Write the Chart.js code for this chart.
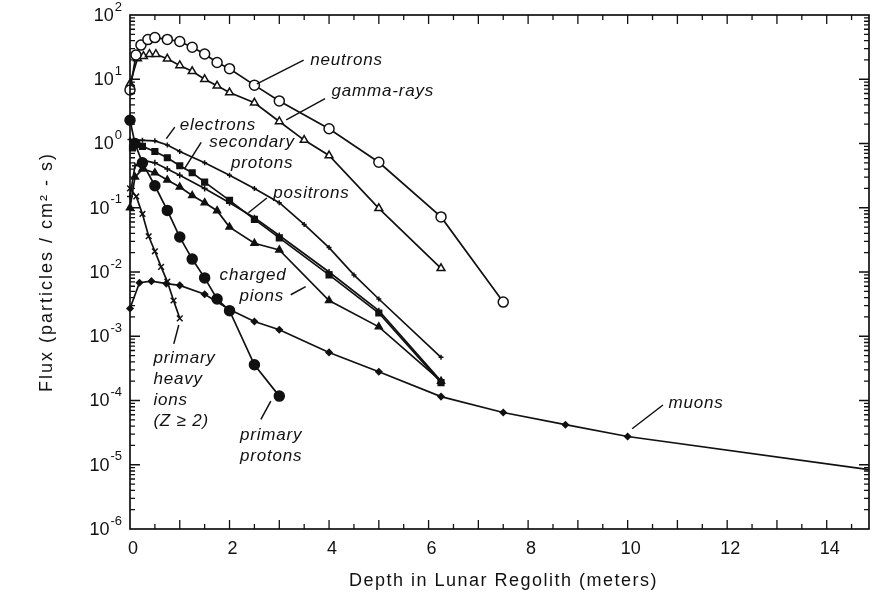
<!DOCTYPE html>
<html>
<head>
<meta charset="utf-8">
<script src="https://cdn.jsdelivr.net/npm/chart.js@4.4.1/dist/chart.umd.min.js"></script>
<style>
  html, body { margin: 0; padding: 0; background: #fff; }
  #wrap { width: 872px; height: 597px; }
</style>
</head>
<body>
<div id="wrap"><canvas id="flux-chart" width="872" height="597"></canvas></div>
<script>
// depth in meters, flux in particles / cm2 - s
const depthNeutrons = [0, 0.12, 0.22, 0.36, 0.5, 0.75, 1.0, 1.25, 1.5, 1.75, 2.0, 2.5, 3.0, 4.0, 5.0, 6.25, 7.5];
const fluxNeutrons  = [6.8, 23.8, 34, 41.4, 44.5, 41.7, 38.7, 31.5, 24.7, 18.2, 14.6, 8.1, 4.6, 1.7, 0.51, 0.072, 0.0034];

const depthGamma = [0, 0.15, 0.27, 0.39, 0.52, 0.75, 1.0, 1.25, 1.5, 1.75, 2.0, 2.5, 3.0, 3.5, 4.0, 5.0, 6.25];
const fluxGamma  = [8.5, 21, 22.9, 24.5, 24.5, 20.8, 16.4, 13.3, 10, 7.9, 6.2, 4.3, 2.2, 1.13, 0.65, 0.098, 0.0114];

const depthElectrons = [0, 0.25, 0.5, 0.75, 1.0, 1.5, 2.0, 2.5, 3.0, 3.5, 4.0, 4.5, 5.0, 6.25];
const fluxElectrons  = [1.15, 1.12, 1.1, 0.95, 0.75, 0.5, 0.32, 0.2, 0.12, 0.055, 0.024, 0.009, 0.0038, 0.00047];

const depthSecProtons = [0.05, 0.25, 0.5, 0.75, 1.0, 1.25, 1.5, 2.0, 2.5, 3.0, 4.0, 5.0, 6.25];
const fluxSecProtons  = [0.85, 0.9, 0.75, 0.6, 0.45, 0.35, 0.25, 0.13, 0.066, 0.034, 0.009, 0.0023, 0.00019];

const depthPositrons = [0, 0.1, 0.25, 0.5, 0.75, 1.0, 1.5, 2.0, 2.5, 3.0, 4.0, 5.0, 6.25];
const fluxPositrons  = [0.15, 0.45, 0.55, 0.5, 0.4, 0.32, 0.2, 0.12, 0.07, 0.037, 0.01, 0.0025, 0.0002];

const depthPions = [0, 0.1, 0.25, 0.5, 0.75, 1.0, 1.25, 1.5, 1.75, 2.0, 2.5, 3.0, 4.0, 5.0, 6.25];
const fluxPions  = [0.1, 0.3, 0.4, 0.35, 0.27, 0.21, 0.155, 0.12, 0.09, 0.05, 0.028, 0.022, 0.0036, 0.0014, 0.0002];

const depthHeavyIons = [0, 0.125, 0.25, 0.375, 0.5, 0.625, 0.75, 0.875, 1.0];
const fluxHeavyIons  = [0.2, 0.15, 0.08, 0.036, 0.021, 0.012, 0.0071, 0.0036, 0.0019];

const depthPrimProtons = [0, 0.1, 0.25, 0.5, 0.75, 1.0, 1.25, 1.5, 1.75, 2.0, 2.5, 3.0];
const fluxPrimProtons  = [2.3, 1.0, 0.5, 0.22, 0.091, 0.035, 0.0159, 0.0081, 0.0038, 0.0025, 0.00036, 0.000117];

const depthMuons = [0, 0.19, 0.43, 0.73, 1.0, 1.5, 2.0, 2.5, 3.0, 4.0, 5.0, 6.25, 7.5, 8.75, 10.0, 14.85];
const fluxMuons  = [0.0027, 0.0068, 0.0072, 0.0066, 0.0062, 0.0045, 0.0026, 0.0017, 0.00126, 0.00056, 0.00028, 0.000115, 0.000065, 0.000042, 0.0000275, 0.0000084];

const xTickLabels = [0, 2, 4, 6, 8, 10, 12, 14];
const yDecades = [-6, -5, -4, -3, -2, -1, 0, 1, 2];

// curve labels: text lines (with indent in meters) at [depth, flux], leader line from -> to
const curveLabels = [
    { lines: [['neutrons', 0]], at: [3.62, 19.5], leader: [[3.49, 19.9], [2.55, 8.45]] },
    { lines: [['gamma-rays', 0]], at: [4.05, 6.6], leader: [[3.92, 5.0], [3.14, 2.33]] },
    { lines: [['electrons', 0]], at: [1.0, 1.93], leader: [[0.90, 1.8], [0.73, 1.19]] },
    { lines: [['secondary', 0], ['protons', 0.44]], at: [1.59, 1.04], leader: [[1.43, 1.04], [1.09, 0.40]] },
    { lines: [['positrons', 0]], at: [2.88, 0.17], leader: [[2.75, 0.142], [2.38, 0.0836]] },
    { lines: [['charged', 0], ['pions', 0.4]], at: [1.80, 0.00885], leader: [[3.23, 0.00442], [3.53, 0.00593]] },
    { lines: [['primary', 0], ['heavy', 0], ['ions', 0], ['(Z \u2265 2)', 0]], at: [0.47, 0.000447], leader: [[0.98, 0.0015], [0.88, 0.00076]] },
    { lines: [['primary', 0], ['protons', 0]], at: [2.21, 0.0000285], leader: [[2.83, 0.0000977], [2.63, 0.0000507]] },
    { lines: [['muons', 0]], at: [10.82, 0.0000891], leader: [[10.71, 0.0000851], [10.09, 0.0000363]] }
];

function toPoints(xs, ys) {
    return xs.map((x, i) => ({ x: x, y: ys[i] }));
}

function series(label, xs, ys, style, radius, filled) {
    return {
        label: label,
        data: toPoints(xs, ys),
        showLine: true,
        borderColor: '#111',
        borderWidth: 1.7,
        pointStyle: style,
        pointRadius: radius,
        pointBorderColor: '#111',
        pointBorderWidth: 1.5,
        pointBackgroundColor: filled ? '#111' : '#fff',
        tension: 0,
        clip: false
    };
}

const muonSet = series('muons', depthMuons, fluxMuons, 'rectRot', 3, true);
// last muon value is the end of the line, no marker
muonSet.pointRadius = ctx => (ctx.dataIndex === depthMuons.length - 1 ? 0 : 3);

const datasets = [
    series('neutrons', depthNeutrons, fluxNeutrons, 'circle', 5, false),
    series('gamma-rays', depthGamma, fluxGamma, 'triangle', 4.5, false),
    series('electrons', depthElectrons, fluxElectrons, 'cross', 2.5, false),
    series('secondary protons', depthSecProtons, fluxSecProtons, 'rect', 4, true),
    series('positrons', depthPositrons, fluxPositrons, 'cross', 3, false),
    series('charged pions', depthPions, fluxPions, 'triangle', 4, true),
    series('primary heavy ions', depthHeavyIons, fluxHeavyIons, 'crossRot', 4, false),
    series('primary protons', depthPrimProtons, fluxPrimProtons, 'circle', 5, true),
    muonSet
];

// axes, ticks and texts are drawn here so they look like the original plot
const framePlugin = {
    id: 'frame',
    afterDraw(chart) {
        const ctx = chart.ctx;
        const area = chart.chartArea;
        const xs = chart.scales.x;
        const ys = chart.scales.y;
        ctx.save();
        ctx.strokeStyle = '#111';
        ctx.fillStyle = '#111';
        ctx.lineWidth = 1.7;
        ctx.strokeRect(area.left, area.top, area.right - area.left, area.bottom - area.top);

        // x ticks every 0.5 m, inward, on bottom and top
        ctx.lineWidth = 1.3;
        ctx.beginPath();
        for (let v = 0.5; v < xs.max; v += 0.5) {
            const px = xs.getPixelForValue(v);
            const len = Number.isInteger(v) ? 9 : 5;
            ctx.moveTo(px, area.bottom);
            ctx.lineTo(px, area.bottom - len);
            ctx.moveTo(px, area.top);
            ctx.lineTo(px, area.top + len);
        }
        // y ticks, decades and 2..9
        for (let d = -6; d < 2; d++) {
            for (let m = 1; m < 10; m++) {
                const v = m * Math.pow(10, d);
                const py = ys.getPixelForValue(v);
                const len = m === 1 ? 10 : 5;
                if (m === 1 && d === -6) continue;
                ctx.moveTo(area.left, py);
                ctx.lineTo(area.left + len, py);
                ctx.moveTo(area.right, py);
                ctx.lineTo(area.right - len, py);
            }
        }
        ctx.stroke();

        // tick labels
        ctx.font = '18px "Liberation Sans", Arial, sans-serif';
        ctx.textAlign = 'center';
        ctx.textBaseline = 'middle';
        xTickLabels.forEach(v => {
            ctx.fillText(String(v), xs.getPixelForValue(v) + 3, area.bottom + 20);
        });
        yDecades.forEach(d => {
            const py = ys.getPixelForValue(Math.pow(10, d));
            const exp = String(d);
            ctx.font = '13px "Liberation Sans", Arial, sans-serif';
            const ew = ctx.measureText(exp).width;
            const right = area.left - 8;
            ctx.textAlign = 'left';
            ctx.fillText(exp, right - ew, py - 8);
            ctx.font = '18px "Liberation Sans", Arial, sans-serif';
            ctx.textAlign = 'right';
            ctx.fillText('10', right - ew - 1, py + 1);
        });

        // axis titles
        ctx.font = '18px "Liberation Sans", Arial, sans-serif';
        ctx.letterSpacing = '1.5px';
        ctx.textAlign = 'center';
        ctx.fillText('Depth in Lunar Regolith (meters)', (area.left + area.right) / 2 + 4, area.bottom + 52);
        ctx.save();
        ctx.translate(47, (area.top + area.bottom) / 2);
        ctx.rotate(-Math.PI / 2);
        ctx.letterSpacing = '2px';
        ctx.fillText('Flux (particles / cm\u00B2 - s)', 0, 0);
        ctx.restore();

        // curve labels with leader lines
        ctx.font = 'italic 17px "Liberation Sans", Arial, sans-serif';
        ctx.letterSpacing = '0.8px';
        ctx.textAlign = 'left';
        ctx.lineWidth = 1.5;
        curveLabels.forEach(lab => {
            const py = ys.getPixelForValue(lab.at[1]);
            lab.lines.forEach((t, i) => {
                ctx.fillText(t[0], xs.getPixelForValue(lab.at[0] + t[1]), py + i * 21);
            });
            const a = lab.leader[0], b = lab.leader[1];
            ctx.beginPath();
            ctx.moveTo(xs.getPixelForValue(a[0]), ys.getPixelForValue(a[1]));
            ctx.lineTo(xs.getPixelForValue(b[0]), ys.getPixelForValue(b[1]));
            ctx.stroke();
        });
        ctx.restore();
    }
};

new Chart(document.getElementById('flux-chart'), {
    type: 'scatter',
    data: { datasets: datasets },
    options: {
        responsive: false,
        animation: false,
        layout: { autoPadding: false, padding: { left: 130, right: 3, top: 15, bottom: 68 } },
        plugins: { legend: { display: false }, tooltip: { enabled: false } },
        scales: {
            x: { type: 'linear', min: 0, max: 14.85, display: false },
            y: { type: 'logarithmic', min: 1e-6, max: 100, display: false }
        }
    },
    plugins: [framePlugin]
});
</script>
</body>
</html>
